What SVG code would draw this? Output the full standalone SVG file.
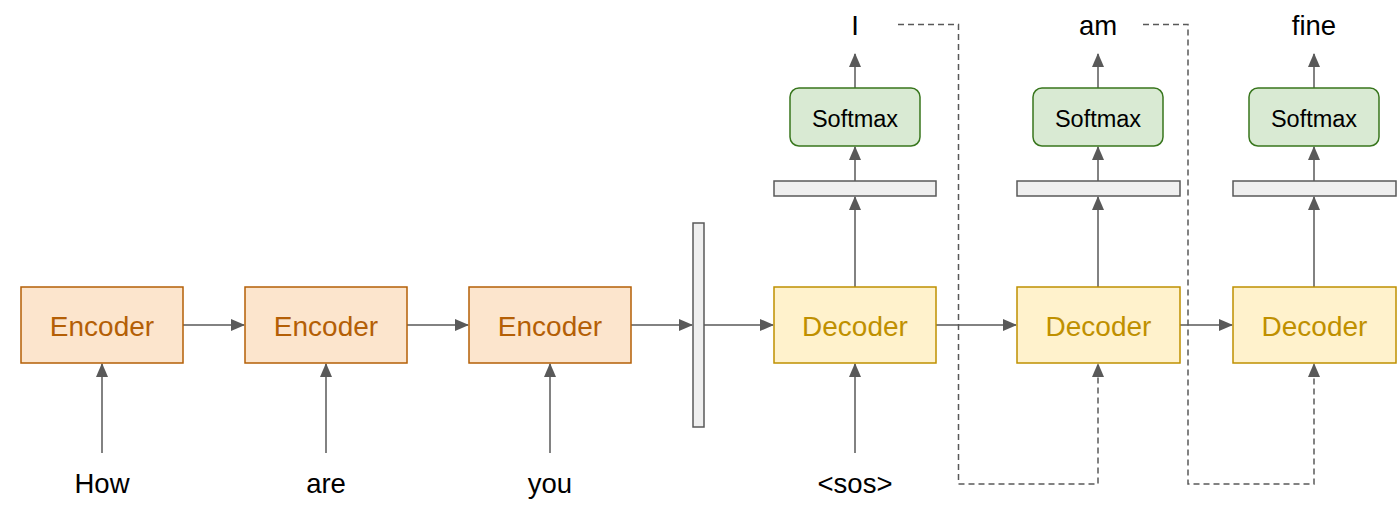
<svg xmlns="http://www.w3.org/2000/svg" width="1400" height="518" viewBox="0 0 1400 518">
<style>
text{font-family:"Liberation Sans",Arial,sans-serif;text-anchor:middle}
.enc rect{fill:#fce5cd;stroke:#b45f06;stroke-width:1.5}
.enc text{fill:#b45f06;font-size:28px}
.dec rect{fill:#fff2cc;stroke:#bf9000;stroke-width:1.5}
.dec text{fill:#bf9000;font-size:28px}
.sm rect{fill:#d9ead3;stroke:#38761d;stroke-width:1.5}
.sm text{fill:#000;font-size:23.5px}
.bar{fill:#efefef;stroke:#595959;stroke-width:1.5}
.lbl{fill:#000;font-size:27.5px}
.ln{stroke:#595959;stroke-width:1.5;fill:none}
.dash{stroke-dasharray:6 4}
</style>
<defs>
<marker id="ah" markerWidth="14" markerHeight="12" refX="13" refY="6" orient="auto" markerUnits="userSpaceOnUse">
<path d="M0,0 L14,6 L0,12 Z" fill="#595959"/>
</marker>
</defs>
<g id="connectors">
<line class="ln" x1="102" y1="453" x2="102" y2="364" marker-end="url(#ah)"/>
<line class="ln" x1="326" y1="453" x2="326" y2="364" marker-end="url(#ah)"/>
<line class="ln" x1="550" y1="453" x2="550" y2="364" marker-end="url(#ah)"/>
<line class="ln" x1="855" y1="453" x2="855" y2="364" marker-end="url(#ah)"/>
<line class="ln" x1="183" y1="325" x2="244" y2="325" marker-end="url(#ah)"/>
<line class="ln" x1="407" y1="325" x2="468" y2="325" marker-end="url(#ah)"/>
<line class="ln" x1="631" y1="325" x2="692" y2="325" marker-end="url(#ah)"/>
<line class="ln" x1="704" y1="325" x2="773" y2="325" marker-end="url(#ah)"/>
<line class="ln" x1="936" y1="325" x2="1016" y2="325" marker-end="url(#ah)"/>
<line class="ln" x1="1180" y1="325" x2="1232" y2="325" marker-end="url(#ah)"/>
<line class="ln" x1="855" y1="287" x2="855" y2="197" marker-end="url(#ah)"/>
<line class="ln" x1="855" y1="181" x2="855" y2="147" marker-end="url(#ah)"/>
<line class="ln" x1="855" y1="88" x2="855" y2="54" marker-end="url(#ah)"/>
<line class="ln" x1="1098" y1="287" x2="1098" y2="197" marker-end="url(#ah)"/>
<line class="ln" x1="1098" y1="181" x2="1098" y2="147" marker-end="url(#ah)"/>
<line class="ln" x1="1098" y1="88" x2="1098" y2="54" marker-end="url(#ah)"/>
<line class="ln" x1="1314" y1="287" x2="1314" y2="197" marker-end="url(#ah)"/>
<line class="ln" x1="1314" y1="181" x2="1314" y2="147" marker-end="url(#ah)"/>
<line class="ln" x1="1314" y1="88" x2="1314" y2="54" marker-end="url(#ah)"/>
<polyline class="ln dash" points="898,24.5 958.5,24.5 958.5,484 1098,484 1098,364" marker-end="url(#ah)"/>
<polyline class="ln dash" points="1143,24.5 1188,24.5 1188,484 1314,484 1314,364" marker-end="url(#ah)"/>
</g>
<g id="enc1" class="enc"><rect x="21" y="287" width="162" height="76"/><text x="102" y="336">Encoder</text></g>
<g id="enc2" class="enc"><rect x="245" y="287" width="162" height="76"/><text x="326" y="336">Encoder</text></g>
<g id="enc3" class="enc"><rect x="469" y="287" width="162" height="76"/><text x="550" y="336">Encoder</text></g>
<g id="context"><rect class="bar" x="693" y="223" width="11" height="204"/></g>
<g id="dec1" class="dec"><rect x="774" y="287" width="162" height="76"/><text x="855" y="336">Decoder</text></g>
<g id="dec2" class="dec"><rect x="1017" y="287" width="163" height="76"/><text x="1098.5" y="336">Decoder</text></g>
<g id="dec3" class="dec"><rect x="1233" y="287" width="163" height="76"/><text x="1314.5" y="336">Decoder</text></g>
<g id="dense1"><rect class="bar" x="774" y="181" width="162" height="15"/></g>
<g id="dense2"><rect class="bar" x="1017" y="181" width="163" height="15"/></g>
<g id="dense3"><rect class="bar" x="1233" y="181" width="163" height="15"/></g>
<g id="sm1" class="sm"><rect x="790" y="88" width="130" height="58" rx="9"/><text x="855" y="127">Softmax</text></g>
<g id="sm2" class="sm"><rect x="1033" y="88" width="130" height="58" rx="9"/><text x="1098" y="127">Softmax</text></g>
<g id="sm3" class="sm"><rect x="1249" y="88" width="130" height="58" rx="9"/><text x="1314" y="127">Softmax</text></g>
<g id="labels">
<text class="lbl" x="102" y="493">How</text>
<text class="lbl" x="326" y="493">are</text>
<text class="lbl" x="550" y="493">you</text>
<text class="lbl" x="855" y="493">&lt;sos&gt;</text>
<text class="lbl" x="855" y="35">I</text>
<text class="lbl" x="1098" y="35">am</text>
<text class="lbl" x="1314" y="35">fine</text>
</g>
</svg>
